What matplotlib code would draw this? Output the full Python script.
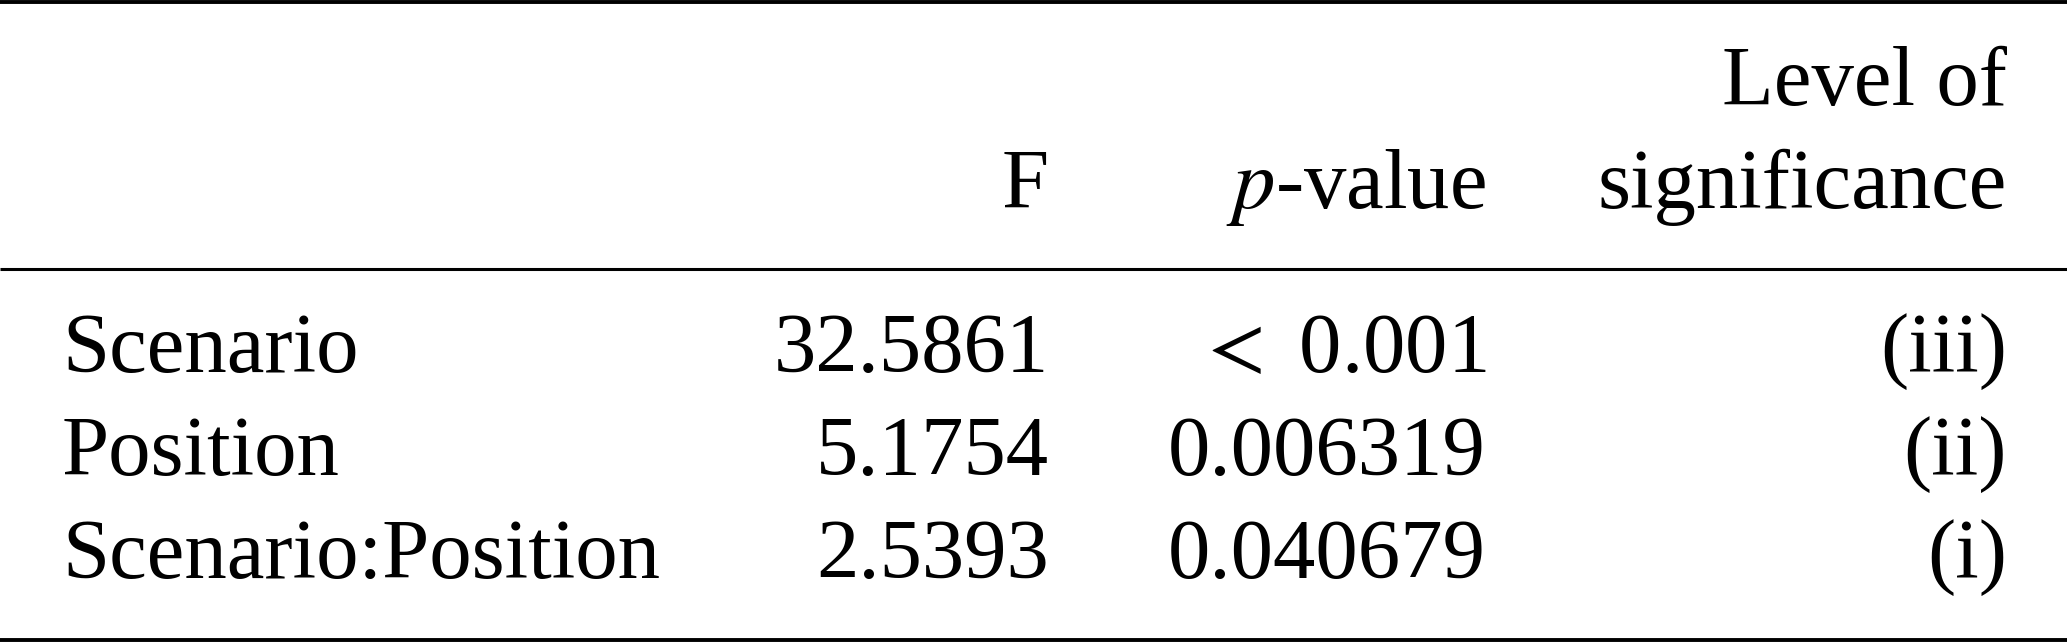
import matplotlib
matplotlib.use('Agg')
import matplotlib.pyplot as plt

# table contents
TERMS = ['Scenario', 'Position', 'Scenario:Position']
F_VALUES = ['32.5861', '5.1754', '2.5393']
P_VALUES = ['$<$ 0.001', '0.006319', '0.040679']
LEVELS = ['(iii)', '(ii)', '(i)']
HEADERS = ['F', '$p$-value', 'Level of\nsignificance']

W, H = 2067, 643
FS = 61

plt.rcParams['font.family'] = 'Liberation Serif'
plt.rcParams['mathtext.fontset'] = 'stix'

fig = plt.figure(figsize=(W / 100, H / 100), dpi=100)
ax = fig.add_axes([0, 0, 1, 1])
ax.set_xlim(0, W)
ax.set_ylim(H, 0)
ax.axis('off')

# rules
for y, lw in [(2, 2.8), (269, 2.2), (640, 2.8)]:
    ax.plot([0, W], [y, y], color='black', linewidth=lw, solid_capstyle='butt')

x_term = 62
x_right = [1049, 1486, 2007]
y_head = [105, 208]
y_rows = [372, 475, 578]

# header
ax.text(x_right[0], y_head[1], HEADERS[0], ha='right', va='baseline', fontsize=FS)
ax.text(x_right[1], y_head[1], HEADERS[1], ha='right', va='baseline', fontsize=FS)
top, bottom = HEADERS[2].split('\n')
ax.text(x_right[2], y_head[0], top, ha='right', va='baseline', fontsize=FS)
ax.text(x_right[2], y_head[1], bottom, ha='right', va='baseline', fontsize=FS)

# body
for i, term in enumerate(TERMS):
    y = y_rows[i]
    ax.text(x_term, y, term, ha='left', va='baseline', fontsize=FS)
    ax.text(x_right[0], y, F_VALUES[i], ha='right', va='baseline', fontsize=FS)
    ax.text(x_right[1], y, P_VALUES[i], ha='right', va='baseline', fontsize=FS)
    ax.text(x_right[2], y, LEVELS[i], ha='right', va='baseline', fontsize=FS)

fig.savefig('out.png', dpi=100, facecolor='white')
